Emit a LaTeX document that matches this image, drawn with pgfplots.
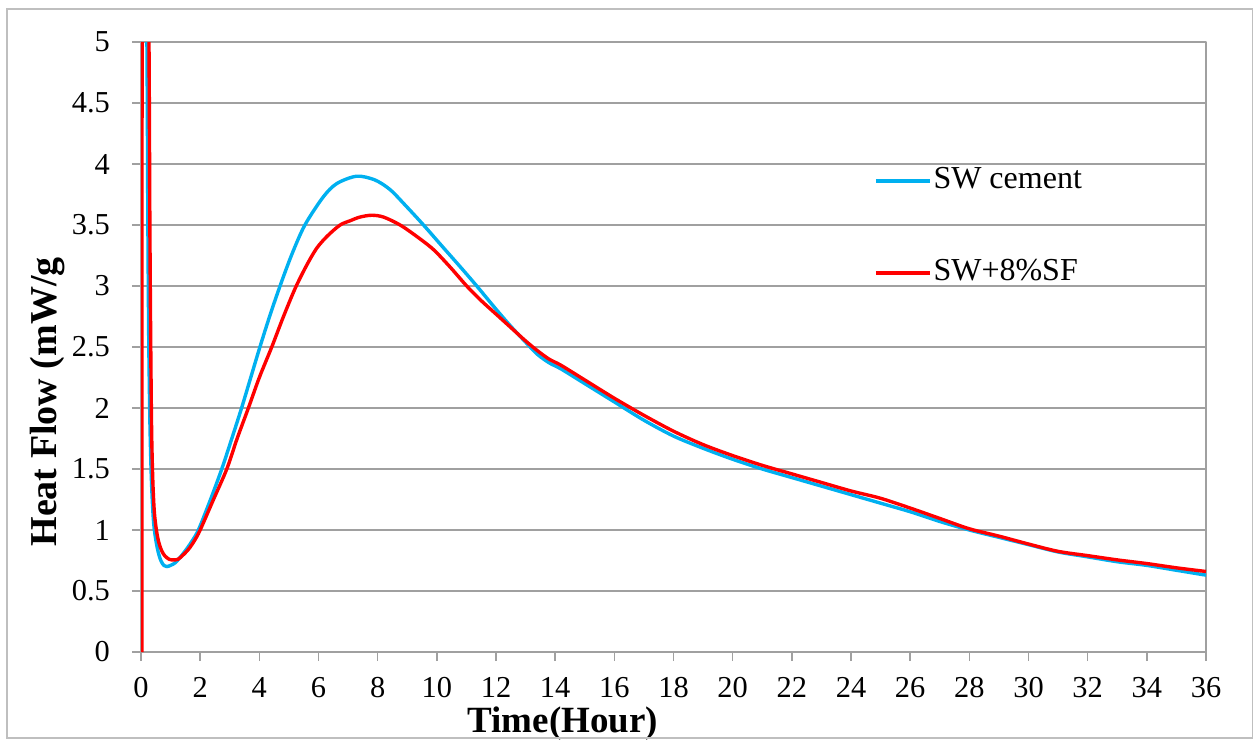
\documentclass[border=0pt]{standalone}
\usepackage{fontspec}
\setmainfont{Liberation Serif}
\usepackage{pgfplots}
\pgfplotsset{compat=1.18}
\definecolor{swblue}{RGB}{0,176,240}
\definecolor{swred}{RGB}{255,0,0}
\definecolor{gridc}{RGB}{160,160,160}
\definecolor{borderc}{RGB}{191,191,191}
\begin{document}
\begin{tikzpicture}
\useasboundingbox (0,0) rectangle (626.5pt,370.5pt);
\begin{axis}[
  at={(70.5pt,44.5pt)}, anchor=south west,
  scale only axis, width=532.5pt, height=305pt,
  xmin=0, xmax=36, ymin=0, ymax=5,
  xtick={0,2,...,36}, ytick={0,0.5,1,1.5,2,2.5,3,3.5,4,4.5,5},
  xtick pos=bottom, ytick pos=left,
  tick align=outside, major tick length=4.5pt,
  axis line style={gridc, line width=0.8pt},
  every tick/.style={gridc, line width=0.8pt},
  ymajorgrids, grid style={gridc, line width=0.8pt},
  tick label style={font=\fontsize{15.2}{16}\selectfont, black},
  xticklabel style={yshift=-4.5pt},
  yticklabel style={xshift=-7.5pt},
  /pgf/number format/assume math mode=true,
  xlabel={\textbf{Time(Hour)}},
  ylabel={\textbf{Heat Flow (mW/g}},
  label style={font=\fontsize{18.5}{20}\selectfont},
  xlabel style={at={(rel axis cs:0.396,-0.0885)}, anchor=north, inner sep=0pt},
  ylabel style={at={(rel axis cs:-0.088,0.41)}, anchor=center, inner sep=0pt, font=\fontsize{19}{20}\selectfont},
  legend style={at={(rel axis cs:0.688,0.80)}, anchor=north west, draw=none, fill=none,
    inner sep=0pt, row sep=29.5pt, font=\fontsize{16}{18}\selectfont,
    nodes={inner sep=1pt, text height=11pt, text depth=3.5pt}},
  legend cell align=left,
  legend image code/.code={\draw[#1] (0pt,0pt) -- (27pt,0pt);},
  line join=round,
]
\addplot[swblue, line width=1.7pt, smooth] coordinates {
(0.10,8) (0.20,5.0) (0.23,3.6) (0.26,2.6) (0.30,1.9) (0.34,1.5) (0.38,1.25)
(0.43,1.05) (0.50,0.92) (0.58,0.82) (0.67,0.75) (0.77,0.71) (0.87,0.70)
(1.0,0.71) (1.15,0.73) (1.3,0.77) (1.5,0.83) (1.7,0.90) (1.94,1.0)
(2.35,1.25) (2.73,1.5) (3.07,1.75) (3.40,2.0) (3.71,2.25) (4.02,2.5)
(4.36,2.76) (4.70,3.0) (5.1,3.26) (5.54,3.5) (6.16,3.73) (6.62,3.84)
(7.29,3.90) (7.9,3.87) (8.42,3.79) (8.98,3.65) (9.55,3.5) (10.2,3.32)
(10.8,3.155) (11.35,3.0) (12.0,2.81)
(12.5,2.67) (13.0,2.54) (13.4,2.44) (13.8,2.37) (14.2,2.32) (15.0,2.20)
(16.0,2.05) (17.0,1.90) (18.0,1.77) (19.0,1.67) (20.0,1.58) (21.0,1.50)
(22.0,1.43) (23.0,1.36) (24.0,1.29) (25.0,1.22) (26.0,1.15) (27.0,1.07)
(28.0,1.00) (29.0,0.94) (30.0,0.88) (31.0,0.82) (32.0,0.78) (33.0,0.74)
(34.0,0.71) (35.0,0.67) (36.0,0.63)
};
\addlegendentry{SW cement}
\addplot[swred, line width=1.7pt, forget plot] coordinates {(0.03,0) (0.04,8)};
\addplot[swred, line width=1.7pt, smooth] coordinates {
(0.18,8) (0.27,5.0) (0.30,3.5) (0.33,2.5) (0.36,1.8) (0.40,1.4) (0.45,1.15)
(0.52,1.0) (0.60,0.9) (0.70,0.83) (0.80,0.79) (0.95,0.76) (1.10,0.755)
(1.25,0.76) (1.4,0.79) (1.6,0.84) (1.8,0.91) (2.0,1.0) (2.45,1.25)
(2.9,1.5) (3.25,1.75) (3.63,2.0) (4.0,2.25) (4.42,2.5) (4.8,2.74)
(5.21,2.98) (5.6,3.17) (5.94,3.31) (6.3,3.41) (6.73,3.5) (7.07,3.535)
(7.4,3.565) (7.8,3.58) (8.2,3.565) (8.76,3.5) (9.3,3.41) (9.88,3.30)
(10.45,3.155) (11.01,3.0) (11.5,2.88) (12.0,2.77)
(12.5,2.66) (13.0,2.55) (13.4,2.47) (13.8,2.40)
(14.2,2.35) (15.0,2.23) (16.0,2.08) (17.0,1.94) (18.0,1.81) (19.0,1.70)
(20.0,1.61) (21.0,1.53) (22.0,1.46) (23.0,1.39) (24.0,1.32) (25.0,1.26)
(26.0,1.18) (27.0,1.095) (28.0,1.01) (29.0,0.95) (30.0,0.885) (31.0,0.825)
(32.0,0.79) (33.0,0.755) (34.0,0.725) (35.0,0.69) (36.0,0.66)
};
\addlegendentry{SW+8\%SF}
\end{axis}
\draw[borderc, line width=0.8pt] (3.5pt,1.5pt) rectangle (626.2pt,366pt);
\end{tikzpicture}
\end{document}
